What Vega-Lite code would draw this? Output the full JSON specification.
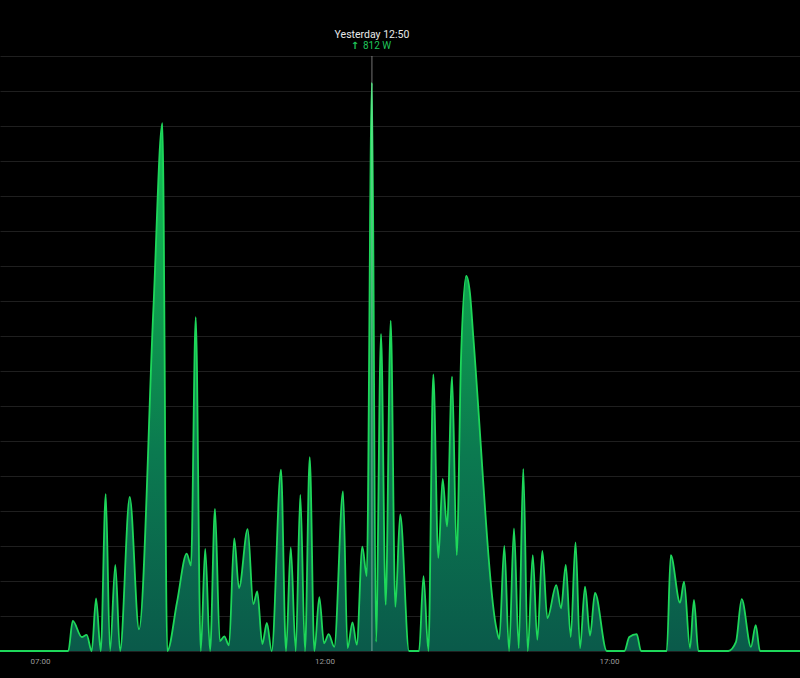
{
  "$schema": "https://vega.github.io/schema/vega-lite/v6.json",
  "width": 800,
  "height": 595,
  "autosize": "none",
  "padding": {"top": 56, "left": 0, "right": 0, "bottom": 27},
  "background": "#000000",
  "config": {"view": {"stroke": null}, "font": "Roboto"},
  "datasets": {
    "power": [
      {"t": "2024-06-10T06:17:48", "w": 0},
      {"t": "2024-06-10T07:29:48", "w": 0},
      {"t": "2024-06-10T07:34:30", "w": 43},
      {"t": "2024-06-10T07:44:00", "w": 20},
      {"t": "2024-06-10T07:49:12", "w": 23},
      {"t": "2024-06-10T07:54:30", "w": 0},
      {"t": "2024-06-10T07:59:06", "w": 75},
      {"t": "2024-06-10T08:04:00", "w": 0},
      {"t": "2024-06-10T08:09:18", "w": 224},
      {"t": "2024-06-10T08:13:48", "w": 0},
      {"t": "2024-06-10T08:19:24", "w": 123},
      {"t": "2024-06-10T08:24:24", "w": 0},
      {"t": "2024-06-10T08:34:36", "w": 220},
      {"t": "2024-06-10T08:44:24", "w": 31},
      {"t": "2024-06-10T08:59:30", "w": 487},
      {"t": "2024-06-10T09:09:00", "w": 754},
      {"t": "2024-06-10T09:14:12", "w": 0},
      {"t": "2024-06-10T09:24:30", "w": 70},
      {"t": "2024-06-10T09:34:42", "w": 139},
      {"t": "2024-06-10T09:39:12", "w": 122},
      {"t": "2024-06-10T09:44:12", "w": 477},
      {"t": "2024-06-10T09:49:30", "w": 0},
      {"t": "2024-06-10T09:54:12", "w": 146},
      {"t": "2024-06-10T09:59:18", "w": 0},
      {"t": "2024-06-10T10:04:30", "w": 203},
      {"t": "2024-06-10T10:09:36", "w": 14},
      {"t": "2024-06-10T10:14:18", "w": 21},
      {"t": "2024-06-10T10:19:18", "w": 8},
      {"t": "2024-06-10T10:24:48", "w": 161},
      {"t": "2024-06-10T10:29:48", "w": 90},
      {"t": "2024-06-10T10:39:00", "w": 174},
      {"t": "2024-06-10T10:44:54", "w": 67},
      {"t": "2024-06-10T10:49:06", "w": 85},
      {"t": "2024-06-10T10:54:24", "w": 10},
      {"t": "2024-06-10T10:59:12", "w": 40},
      {"t": "2024-06-10T11:04:18", "w": 0},
      {"t": "2024-06-10T11:14:06", "w": 259},
      {"t": "2024-06-10T11:19:24", "w": 0},
      {"t": "2024-06-10T11:24:24", "w": 148},
      {"t": "2024-06-10T11:29:36", "w": 0},
      {"t": "2024-06-10T11:34:30", "w": 223},
      {"t": "2024-06-10T11:39:24", "w": 0},
      {"t": "2024-06-10T11:44:24", "w": 277},
      {"t": "2024-06-10T11:49:18", "w": 0},
      {"t": "2024-06-10T11:54:30", "w": 77},
      {"t": "2024-06-10T11:59:30", "w": 11},
      {"t": "2024-06-10T12:04:24", "w": 24},
      {"t": "2024-06-10T12:10:18", "w": 6},
      {"t": "2024-06-10T12:19:30", "w": 228},
      {"t": "2024-06-10T12:24:18", "w": 4},
      {"t": "2024-06-10T12:29:30", "w": 41},
      {"t": "2024-06-10T12:34:00", "w": 9},
      {"t": "2024-06-10T12:39:54", "w": 149},
      {"t": "2024-06-10T12:44:30", "w": 107},
      {"t": "2024-06-10T12:50:00", "w": 812},
      {"t": "2024-06-10T12:54:18", "w": 13},
      {"t": "2024-06-10T12:59:36", "w": 453},
      {"t": "2024-06-10T13:04:30", "w": 66},
      {"t": "2024-06-10T13:09:48", "w": 472},
      {"t": "2024-06-10T13:14:42", "w": 63},
      {"t": "2024-06-10T13:19:48", "w": 195},
      {"t": "2024-06-10T13:29:06", "w": 0},
      {"t": "2024-06-10T13:39:42", "w": 0},
      {"t": "2024-06-10T13:44:24", "w": 107},
      {"t": "2024-06-10T13:49:30", "w": 0},
      {"t": "2024-06-10T13:54:42", "w": 395},
      {"t": "2024-06-10T14:00:00", "w": 133},
      {"t": "2024-06-10T14:04:36", "w": 246},
      {"t": "2024-06-10T14:09:12", "w": 178},
      {"t": "2024-06-10T14:14:30", "w": 392},
      {"t": "2024-06-10T14:19:24", "w": 137},
      {"t": "2024-06-10T14:23:54", "w": 416},
      {"t": "2024-06-10T14:29:30", "w": 536},
      {"t": "2024-06-10T14:33:24", "w": 511},
      {"t": "2024-06-10T14:36:54", "w": 449},
      {"t": "2024-06-10T15:01:36", "w": 30},
      {"t": "2024-06-10T15:04:18", "w": 17},
      {"t": "2024-06-10T15:09:36", "w": 150},
      {"t": "2024-06-10T15:14:36", "w": 0},
      {"t": "2024-06-10T15:19:48", "w": 175},
      {"t": "2024-06-10T15:24:48", "w": 4},
      {"t": "2024-06-10T15:29:36", "w": 260},
      {"t": "2024-06-10T15:34:18", "w": 0},
      {"t": "2024-06-10T15:39:36", "w": 137},
      {"t": "2024-06-10T15:44:24", "w": 16},
      {"t": "2024-06-10T15:49:42", "w": 143},
      {"t": "2024-06-10T15:55:00", "w": 47},
      {"t": "2024-06-10T16:04:24", "w": 94},
      {"t": "2024-06-10T16:09:24", "w": 61},
      {"t": "2024-06-10T16:14:24", "w": 123},
      {"t": "2024-06-10T16:19:36", "w": 20},
      {"t": "2024-06-10T16:24:42", "w": 155},
      {"t": "2024-06-10T16:29:24", "w": 4},
      {"t": "2024-06-10T16:34:42", "w": 92},
      {"t": "2024-06-10T16:40:00", "w": 22},
      {"t": "2024-06-10T16:45:12", "w": 83},
      {"t": "2024-06-10T16:57:36", "w": 0},
      {"t": "2024-06-10T17:16:12", "w": 0},
      {"t": "2024-06-10T17:21:24", "w": 20},
      {"t": "2024-06-10T17:29:12", "w": 24},
      {"t": "2024-06-10T17:33:48", "w": 0},
      {"t": "2024-06-10T18:00:54", "w": 0},
      {"t": "2024-06-10T18:05:06", "w": 137},
      {"t": "2024-06-10T18:14:54", "w": 69},
      {"t": "2024-06-10T18:19:06", "w": 99},
      {"t": "2024-06-10T18:25:24", "w": 4},
      {"t": "2024-06-10T18:29:36", "w": 73},
      {"t": "2024-06-10T18:34:12", "w": 0},
      {"t": "2024-06-10T19:05:48", "w": 0},
      {"t": "2024-06-10T19:13:54", "w": 13},
      {"t": "2024-06-10T19:19:54", "w": 74},
      {"t": "2024-06-10T19:29:42", "w": 6},
      {"t": "2024-06-10T19:34:42", "w": 37},
      {"t": "2024-06-10T19:39:12", "w": 0},
      {"t": "2024-06-10T20:21:24", "w": 0}
    ],
    "hover": [
      {"t": "2024-06-10T12:50:00", "w": 812, "when": "Yesterday 12:50", "arrow": "↑", "reading": "812 W"}
    ]
  },
  "layer": [
    {
      "data": {"name": "power"},
      "mark": {
        "type": "area",
        "interpolate": "monotone",
        "opacity": 1,
        "color": {
          "gradient": "linear",
          "x1": 0, "y1": 0, "x2": 0, "y2": 1,
          "stops": [
            {"offset": 0, "color": "#16cc58"},
            {"offset": 0.35, "color": "#0ea04e"},
            {"offset": 0.65, "color": "#0b7a50"},
            {"offset": 1, "color": "#0a5a4a"}
          ]
        },
        "line": {"color": "#1ed75a", "strokeWidth": 1.8}
      },
      "encoding": {
        "x": {
          "field": "t",
          "type": "temporal",
          "scale": {
            "domain": [
              {"year": 2024, "month": 6, "date": 10, "hours": 6, "minutes": 17, "seconds": 48},
              {"year": 2024, "month": 6, "date": 10, "hours": 20, "minutes": 21, "seconds": 24}
            ]
          },
          "axis": {
            "title": null,
            "format": "%H:%M",
            "values": [
              {"year": 2024, "month": 6, "date": 10, "hours": 7},
              {"year": 2024, "month": 6, "date": 10, "hours": 12},
              {"year": 2024, "month": 6, "date": 10, "hours": 17}
            ],
            "grid": false,
            "ticks": false,
            "domain": false,
            "labelColor": "#9a9a9a",
            "labelFontSize": 8,
            "labelFont": "Roboto",
            "labelPadding": 6
          }
        },
        "y": {
          "field": "w",
          "type": "quantitative",
          "scale": {"domain": [0, 850], "nice": false},
          "axis": {
            "title": null,
            "labels": false,
            "ticks": false,
            "domain": false,
            "grid": true,
            "gridColor": "#1f1f1f",
            "gridWidth": 1,
            "tickCount": 17
          }
        }
      }
    },
    {
      "data": {"name": "hover"},
      "mark": {"type": "rule", "color": "#ffffff", "opacity": 0.45, "strokeWidth": 1},
      "encoding": {
        "x": {"field": "t", "type": "temporal"}
      }
    },
    {
      "data": {"name": "hover"},
      "mark": {"type": "text", "color": "#e8e8e8", "fontSize": 10.5, "font": "Roboto", "dy": -21, "baseline": "middle", "align": "center"},
      "encoding": {
        "x": {"field": "t", "type": "temporal"},
        "y": {"datum": 850, "type": "quantitative"},
        "text": {"field": "when"}
      }
    },
    {
      "data": {"name": "hover"},
      "mark": {"type": "text", "color": "#1fc45a", "fontSize": 10, "fontWeight": "bold", "font": "DejaVu Sans", "dx": -17, "dy": -10, "baseline": "middle", "align": "center"},
      "encoding": {
        "x": {"field": "t", "type": "temporal"},
        "y": {"datum": 850, "type": "quantitative"},
        "text": {"field": "arrow"}
      }
    },
    {
      "data": {"name": "hover"},
      "mark": {"type": "text", "color": "#1fc45a", "fontSize": 10, "font": "Roboto", "dx": -9, "dy": -10, "baseline": "middle", "align": "left"},
      "encoding": {
        "x": {"field": "t", "type": "temporal"},
        "y": {"datum": 850, "type": "quantitative"},
        "text": {"field": "reading"}
      }
    }
  ]
}
